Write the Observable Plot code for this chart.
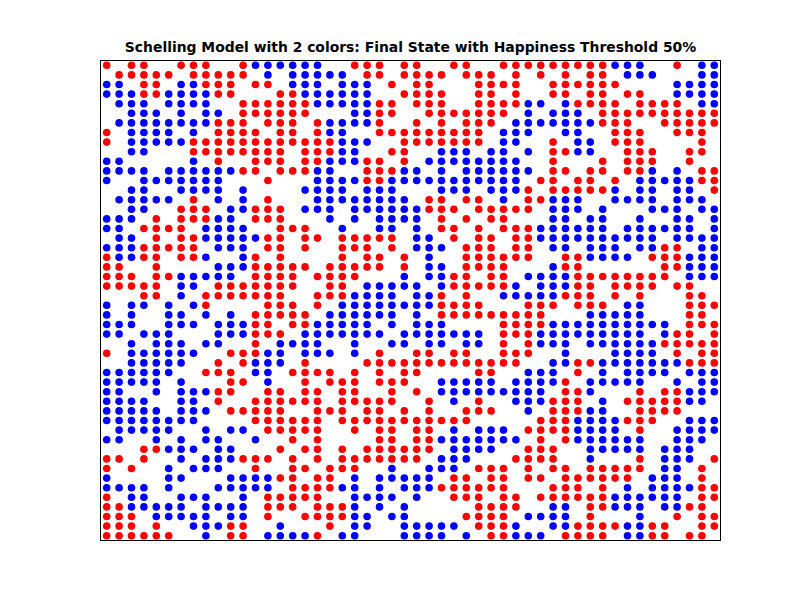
<!DOCTYPE html>
<html>
<head>
<meta charset="utf-8">
<style>html,body{margin:0;padding:0;background:#fff;}svg{display:block;}</style>
<script src="https://cdn.jsdelivr.net/npm/d3@7"></script>
<script src="https://cdn.jsdelivr.net/npm/@observablehq/plot@0.6"></script>
</head>
<body>
<div id="chart"></div>
<script>
const titleText = "Schelling Model with 2 colors: Final State with Happiness Threshold 50%";
const groupKeys = ["R", "B"];
const groupColors = ["#ff0000", "#0000ff"];
const gridRows = [
"R.RR..RRR..RBBBBB"+"B..RRR.RR..RR..RR"+"RRRRRRRBBB..R.BB",
".RRRRR.RRRRR.B.BB"+"BBB.RR.RRRR.RRR.R"+".R.R.RR.BBB...BB",
"BB.RR.BBRRR.RR.BB"+"B.BBB.R.RR...RRRR"+"..RRRRRR....BBBB",
"BBBRRBBBBRR...RRB"+"BBBBB..RRRR..RR.R"+"..RR.RR.RR..BBBB",
".BBB.BBBB..RRRRRR"+"BBBBBRR.RRR..RRRR"+"BB.BRRRR.RRRR.BB",
"..BBB.B.BB.RRRRRR"+"...BBRR..RRRRRRR."+"B.BBB.RRRRRRRRRR",
".BBBBBBBBRRR.RRR."+"RBBBBR..R.R.RRR.B"+"BBBBBBRRR..RRRRR",
"R.BBBB.B.RRRR.RR."+"RBB..RRRRRRRRR.BB"+"B..BB..RRR..RRR.",
"R.BBBBBRRRRRRRRRR"+"RRBBB..RRRRRRR.BB"+"..R.BB.RRR....R.",
"..BB...RRRRRRRR.R"+"RRBB..RR..BBB.BB."+"B.RRBB..RRR..RR.",
"BB.....B.R..RRR.R"+"RBBBRR.R.BBBBBBBB"+"..R...R.RRR..R..",
"BBBB.BBBBBBRR.RRR"+"BB..RRRBB.B.BBBBB"+"B.RR.RR.RRB.B.RR",
"B..BBBBBBB...R..."+"BBBBRRBBBBBBBBBBB"+".RR.RR.R.BBBBBRR",
"..BB..BBBB.B....B"+"BBB.BBB...BBB.BBB"+"R.RRRRRB.BB.BB.R",
".BBBBB.R.B.B.R..."+"BBBBBBBB.RR.RR.B."+"RRBBB..BBBB.BBB.",
"..BB..RRR.BBRRR.B"+"BB.BBBBBBRRR.RRRR"+"R.BBB.B...BBB.BB",
"BBB.R.RRRBB.RRR.."+".B.B.BBBB.R.R.RR."+"..BB.BB..B..BB.B",
"BB.RRRR.BBBB..RRR"+"..B..BB.B.RR.R.RR"+"RBBBBBB.BBBBBB.B",
".BB.R.RRBBBBBRR.R"+"R.RRRRR.BB.R.RR.R"+"RBBBBBBBBBB.BBBB",
"BBBRRRRR.BBB.RR.R"+"..RRR.R.BBB.RRR.R"+"R.BB.BBB.BBRR.BB",
"RBBRR.RRB..BR.R.."+"..R.RR.R.B..RRRRR"+"R..RRBBBB.RRRBBB",
"RR..R....BBBRRRRR"+".RRRRR.R.BB.RRRR."+"..BRR......RRBBB",
"RRR.RRBBBBB.RRRR."+"RRRR...B.BBRR.RR."+"BBBBRRRRRRRR.BBB",
"RRRRR.BB.RRRRRRR."+".RR.BBBBB.BRRRRRB"+".BBBRR.RRRR.RR..",
"...RR.B.RRRRRRR.."+"RRRBBBB.BBR.R..BB"+"BBBRRR.R.R...RR.",
"B.BB.B.BR....RRR."+"R.BBBBBBBBRRRR..."+"RRR.RRR.BB...RRR",
"B.B..BB.B.B.RRRRR"+".BBBBBB.B.RRRRRRR"+"RR...BBBBB...RR.",
"BBB..BBB.BBBRR.RR"+"BBBBB.B.BBB....RR"+"RRBBBBBBBBBB.RRR",
"BB.BBB...BBBRRR.B"+"BBBBBB.BBBBBBB.RR"+"RBBBBBBBBB.BRR.R",
"..B.BBB.BB..R.BBB"+"B..B..BB.BB.BB.R."+"RBBB.BBBBBBRRRRR",
"R.BBBBBB..RRRBB.B"+"BB.B.R..RR.RR..RR"+"R..B...BBBB.R.RR",
"..BBBBB..R.RBBB.R"+"....RRRRRRRRRRRRR"+"..BBRRBBBBBBBRRR",
"BBBBBB..RRR.BB.RR"+"RR.R.R.RR....RR.."+"BBB.R.B.BBBB.BBB",
"BBBBB.B...RR.B..R"+".RRR.RRR..BBBBB.B"+"BBBR.BBBBB..B.BB",
"BB..B.BBBRR..RR.R"+"R.RR..R.R.BBBBBBB"+"BB.RRB...R.RRBBB",
"BBBB..BB.R..RRRRR"+"R.RRRRR..R.B.R..B"+"BBRRR.B.RRRRRBB.",
"BBBBB.BBB.RRRRR.."+"RRR.RR.R.R..RRR.."+"B.RRRBB..RRRR...",
"BBBBBBBB....RRRRR"+"R.RRRRRRRRRRR...."+".RRRBBBBRRR..BBB",
".BBBBB..B.BB.RRRR"+"R..R.RR.RR.B.BBB."+"RRRRBBBB.R..BBBB",
"BB..B.B.BB..B..R."+"R....RR.RRBBBBBBB"+".R.RBBBBBB..BBB.",
"...RRBBB.BB...R.R"+"R.R.RRRRRR.BBBB.."+"RRR..BBBBB.BBB..",
"RR.R..B.BBBRRR.R."+"R.RRRRRRR.BBB...R"+"RRR..B...R.BBB.R",
"R.R..B.BBB..R..RR"+".RRR..B..BBB.RRR."+"R.RR.RRRRR.BB.R.",
"B....BB...BBBBRR."+"RR.B.BBBBB.RR.RR."+"RR.RRRRRR.BBB.R.",
"BBBB.B...BBBBB.RR"+"RRBB.B.BBBRRRRRR."+"..RRR.R.B.BBBBRR",
"R.BB..BBB..B.RRRR"+"R..BBBB.B..RRR.RR"+".RRRRRRBBBBBB.RR",
"RRBBBBB.BBBB.RRR."+"RRRB.B.B.....RRRR"+"..BB.RRBBB.BBRR.",
"RRR.BBBBB.BB.R..R"+"RRRBB.BB....RRRR."+"BBBB.R...B..R.RR",
"RRR.R..BBBRR..B.."+".R.BB..BBBBB.RRRB"+"..BBRRRRBBRR..RR",
"RRRRRR..B.RR.BBBB"+"R.BB...BBBB.B.RRB"+"BB.RRRR.BBRR.RR."
];

const cells = gridRows.flatMap((line, row) =>
  Array.from(line).flatMap((key, col) =>
    groupKeys.includes(key) ? [{col: col + 0.5, row: row + 0.5, key}] : []
  )
);

const chart = Plot.plot({
  width: 800,
  height: 600,
  marginTop: 60,
  marginBottom: 60,
  marginLeft: 100,
  marginRight: 80,
  style: {background: "#fff", overflow: "visible"},
  x: {domain: [0, 50], axis: null},
  y: {domain: [50, 0], axis: null},
  color: {domain: groupKeys, range: groupColors},
  marks: [
    Plot.dot(cells, {x: "col", y: "row", fill: "key", r: 3.8, stroke: "none"}),
    Plot.frame({stroke: "#000", strokeWidth: 1}),
    Plot.text([titleText], {
      frameAnchor: "top",
      dy: -18,
      fontFamily: "DejaVu Sans",
      fontWeight: "bold",
      fontSize: 13.9,
      fill: "#000"
    })
  ]
});
document.getElementById("chart").appendChild(chart);
</script>
</body>
</html>
